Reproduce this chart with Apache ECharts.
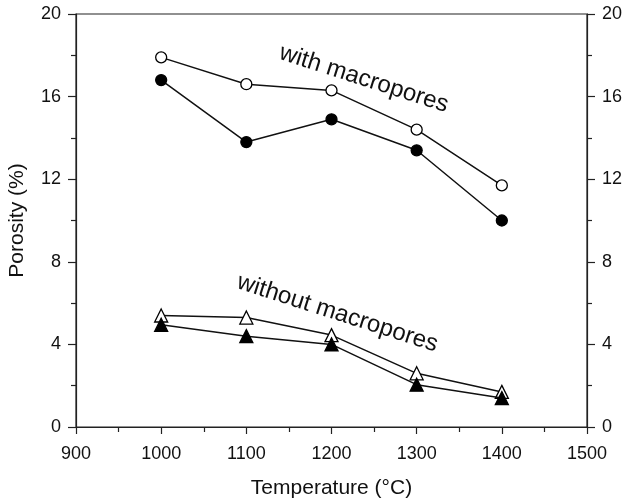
<!DOCTYPE html>
<html>
<head>
<meta charset="utf-8">
<script src="https://cdn.jsdelivr.net/npm/echarts@6/dist/echarts.min.js"></script>
<style>
html,body{margin:0;padding:0;background:#fff;}
#chart{width:623px;height:500px;}
</style>
</head>
<body>
<div id="chart"></div>
<script>
const temperatures = [1000, 1100, 1200, 1300, 1400];
const withMacroOpen = [17.9, 16.6, 16.3, 14.4, 11.7];
const withMacroFilled = [16.8, 13.8, 14.9, 13.4, 10.0];
const withoutMacroOpen = [5.4, 5.3, 4.45, 2.6, 1.7];
const withoutMacroFilled = [4.95, 4.4, 4.0, 2.05, 1.4];
const xTicks = [900, 1500, 100];
const yTicks = [0, 20, 4];
const labels = [
  {text: 'with macropores', at: [1238, 16.85]},
  {text: 'without macropores', at: [1207, 5.5]}
];

const FONT = 'Liberation Sans, Arial, sans-serif';
const chart = echarts.init(document.getElementById('chart'));

function pairs(vals){ return temperatures.map((t,i)=>[t, vals[i]]); }

function axisCommon(margin, tickLen){
  return {
    axisLine: {show: true, onZero: false, lineStyle: {color: '#222', width: 1.2}},
    axisTick: {show: true, inside: false, length: tickLen, lineStyle: {color: '#222', width: 1.2}},
    minorTick: {show: true, splitNumber: 2, length: 5, lineStyle: {color: '#222', width: 1.2}},
    splitLine: {show: false},
    minorSplitLine: {show: false},
    axisLabel: {color: '#111', fontSize: 18, fontFamily: FONT, margin: margin, formatter: v => String(v)}
  };
}

function series(vals, symbol, filled){
  return {
    type: 'line',
    data: pairs(vals),
    symbol: symbol,
    symbolSize: symbol === 'circle' ? 11 : 13,
    lineStyle: {color: '#111', width: 1.5},
    itemStyle: {color: filled ? '#000' : '#fff', borderColor: '#000', borderWidth: 1.3, opacity: 1},
    emphasis: {disabled: true},
    animation: false,
    z: filled ? 3 : 2
  };
}

chart.setOption({
  animation: false,
  grid: {left: 76, right: 36, top: 14, bottom: 73, containLabel: false, outerBoundsMode: 'none',
         show: true, borderColor: '#222', borderWidth: 1.2, backgroundColor: 'transparent'},
  xAxis: Object.assign({
    type: 'value', min: xTicks[0], max: xTicks[1], interval: xTicks[2],
    name: 'Temperature (°C)', nameLocation: 'middle', nameGap: 51,
    nameTextStyle: {color: '#111', fontSize: 21, fontFamily: FONT}
  }, axisCommon(18, 7)),
  yAxis: [
    Object.assign({
      type: 'value', min: yTicks[0], max: yTicks[1], interval: yTicks[2], position: 'left',
      name: 'Porosity (%)', nameLocation: 'middle', nameGap: 48,
      nameTextStyle: {color: '#111', fontSize: 21, fontFamily: FONT}
    }, axisCommon(15, 8)),
    Object.assign({
      type: 'value', min: yTicks[0], max: yTicks[1], interval: yTicks[2], position: 'right'
    }, axisCommon(15, 8))
  ],
  series: [
    series(withMacroOpen, 'circle', false),
    series(withMacroFilled, 'circle', true),
    series(withoutMacroOpen, 'triangle', false),
    series(withoutMacroFilled, 'triangle', true)
  ]
});

const graphics = labels.map(l => {
  const p = chart.convertToPixel({xAxisIndex: 0, yAxisIndex: 0}, l.at);
  return {
    type: 'text', x: p[0], y: p[1], rotation: -0.31,
    style: {text: l.text, x: 0, y: 0, align: 'center', verticalAlign: 'middle', fill: '#111', font: '24px ' + FONT},
    z: 10
  };
});
chart.setOption({graphic: graphics});
</script>
</body>
</html>
